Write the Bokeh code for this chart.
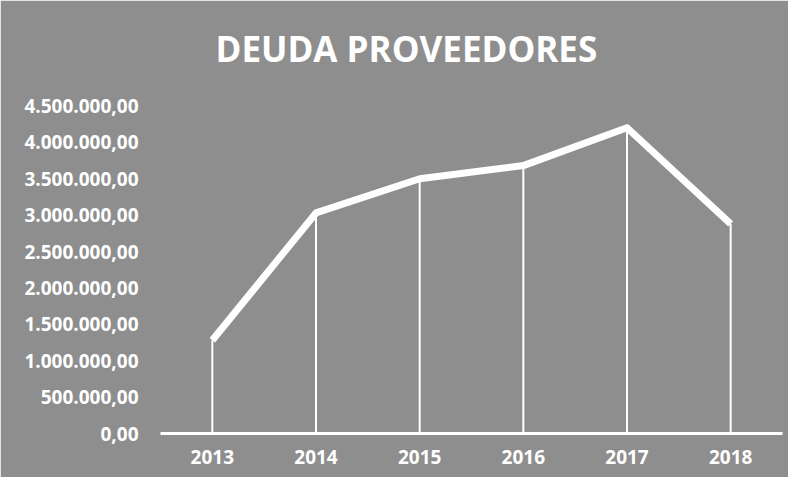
from bokeh.plotting import figure
from bokeh.models import FactorRange, Range1d, FixedTicker, Title, ColumnDataSource
from bokeh.embed import file_html
from bokeh.resources import INLINE

# ---- data ----
years = ["2013", "2014", "2015", "2016", "2017", "2018"]
deuda = [1280000, 3030000, 3500000, 3680000, 4200000, 2880000]
y_ticks = [0, 500000, 1000000, 1500000, 2000000, 2500000, 3000000, 3500000, 4000000, 4500000]
y_tick_labels = ["0,00", "500.000,00", "1.000.000,00", "1.500.000,00", "2.000.000,00",
                 "2.500.000,00", "3.000.000,00", "3.500.000,00", "4.000.000,00", "4.500.000,00"]
title_text = "DEUDA PROVEEDORES"

BG = "#8e8e8e"
FONT = "Open Sans"

p = figure(width=788, height=477, x_range=FactorRange(*years, range_padding=0),
           y_range=Range1d(0, 5000000), output_backend="svg", toolbar_location=None,
           min_border_left=160, min_border_right=6, min_border_top=69, min_border_bottom=44)

p.background_fill_color = BG
p.border_fill_color = BG
p.outline_line_color = BG
p.outline_line_width = 2
p.grid.visible = False

src = ColumnDataSource(dict(x=years, y=deuda, y0=[0] * len(years)))
p.segment(x0="x", y0="y0", x1="x", y1="y", source=src, line_color="white", line_width=2)
p.line(x="x", y="y", source=src, line_color="white", line_width=7, line_join="round")

t = Title(text=title_text, align="left", offset=55, standoff=-4,
          text_font=FONT, text_font_size="35px", text_font_style="bold", text_color="white")
p.add_layout(t, "above")

# y axis
p.yaxis.ticker = FixedTicker(ticks=y_ticks)
p.yaxis.major_label_overrides = {v: s for v, s in zip(y_ticks, y_tick_labels)}
p.yaxis.axis_line_color = None
p.yaxis.major_tick_line_color = None
p.yaxis.minor_tick_line_color = None
p.yaxis.major_label_standoff = 16
p.yaxis.major_label_text_color = "white"
p.yaxis.major_label_text_font = FONT
p.yaxis.major_label_text_font_style = "bold"
p.yaxis.major_label_text_font_size = "19px"

# x axis
p.xaxis.axis_line_color = "white"
p.xaxis.axis_line_width = 3
p.xaxis.major_tick_line_color = None
p.xaxis.minor_tick_line_color = None
p.xaxis.major_label_standoff = 10
p.xaxis.major_label_text_color = "white"
p.xaxis.major_label_text_font = FONT
p.xaxis.major_label_text_font_style = "bold"
p.xaxis.major_label_text_font_size = "19px"

open("out.html", "w").write(file_html(p, INLINE))
